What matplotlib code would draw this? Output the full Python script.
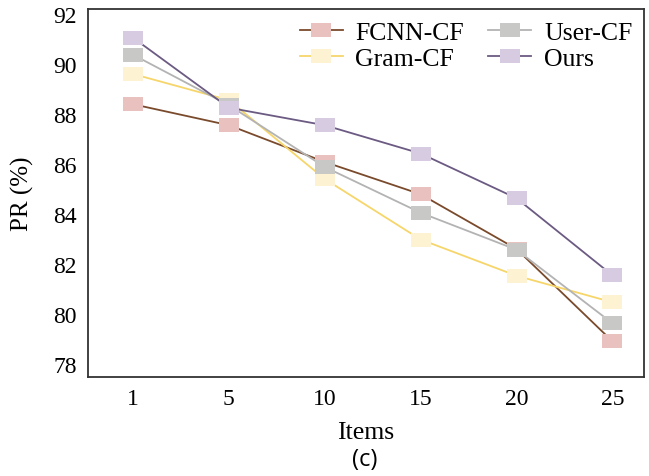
import matplotlib
matplotlib.use("Agg")
import matplotlib.pyplot as plt
import numpy as np

items = ["1", "5", "10", "15", "20", "25"]
fcnn_cf = [88.39, 87.55, 86.08, 84.79, 82.60, 78.91]
user_cf = [90.37, 88.35, 85.88, 84.05, 82.57, 79.63]
gram_cf = [89.60, 88.55, 85.40, 82.98, 81.53, 80.47]
ours = [91.05, 88.25, 87.55, 86.42, 84.63, 81.55]

plt.rcParams['font.family'] = ['Liberation Serif', 'DejaVu Serif']

W, H = 649, 477
fig = plt.figure(figsize=(W / 100, H / 100), dpi=100)
L, R, T, B = 88, 644, 10, 377.5
ax = fig.add_axes([L / W, 1 - B / H, (R - L) / W, (B - T) / H])

x = np.arange(len(items))
rect = [(-1, -0.72), (1, -0.72), (1, 0.72), (-1, 0.72), (-1, -0.72)]

series = [
    ("FCNN-CF", fcnn_cf, "#7a4a2c", "#e9c1be"),
    ("Gram-CF", gram_cf, "#f6d66a", "#fdf3d2"),
    ("User-CF", user_cf, "#b3b3b3", "#c8c8c6"),
    ("Ours", ours, "#6b5a82", "#d7cbe2"),
]
handles = {}
for name, vals, lc, mc in series:
    ax.plot(x, vals, color=lc, lw=1.3, zorder=2)
for i, (name, vals, lc, mc) in enumerate(series):
    ax.plot(x, vals, linestyle='none', marker=rect, markersize=14.5,
            markerfacecolor=mc, markeredgecolor=mc, markeredgewidth=0, zorder=3 + i)
    h, = ax.plot([], [], color=lc, lw=1.3, marker=rect, markersize=14.5,
                 markerfacecolor=mc, markeredgewidth=0)
    handles[name] = h

order = ["FCNN-CF", "Gram-CF", "User-CF", "Ours"]
ax.legend([handles[n] for n in order], order, ncol=2, loc='upper right',
          frameon=False, fontsize=18.5, handlelength=1.67, handletextpad=0.5,
          columnspacing=0.95, labelspacing=0.12, borderaxespad=0.15,
          borderpad=0.3, bbox_to_anchor=(1.0, 1.0))

ax.set_xlim(-0.47, 5.33)
ax.set_ylim(77.5, 92.2)
ax.set_xticks(x)
ax.set_xticklabels(items)
ax.set_yticks([78, 80, 82, 84, 86, 88, 90, 92])
ax.tick_params(length=0, labelsize=17, pad=8)
ax.tick_params(axis='y', pad=8)
for s in ax.spines.values():
    s.set_color("#333333")
    s.set_linewidth(1.3)

ax.set_xlabel("Items", fontsize=18.5)
ax.xaxis.label.set_va('center')
ax.xaxis.set_label_coords(0.5, (B - 433) / (B - T))
ax.set_ylabel("PR (%)", fontsize=18)
ax.yaxis.label.set_va('center')
ax.yaxis.set_label_coords((22.5 - L) / (R - L), 0.5)
fig.text(365 / W, 1 - 460 / H, "(c)", ha='center', va='center',
         fontsize=17, family=['Open Sans', 'DejaVu Sans'])

fig.savefig("out.png", dpi=100)
